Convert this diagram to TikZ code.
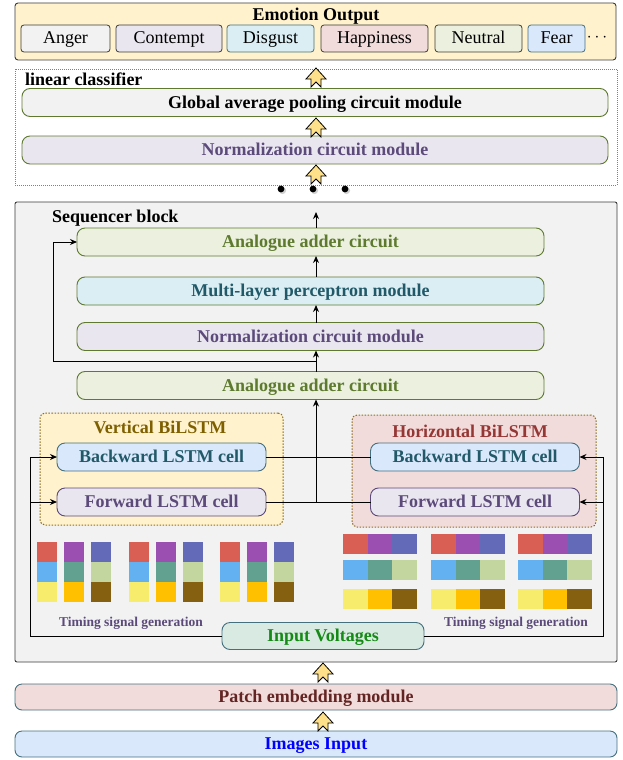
\documentclass[tikz,border=0pt]{standalone}
\usepackage{fontspec}
\setmainfont{Liberation Serif}
\usetikzlibrary{arrows.meta}
\definecolor{emoY}{HTML}{FFF2CC}
\definecolor{grayl}{HTML}{F2F2F2}
\definecolor{lav}{HTML}{EAE6F0}
\definecolor{cyanl}{HTML}{DAEEF3}
\definecolor{pinkl}{HTML}{F2DCDB}
\definecolor{greenl}{HTML}{EBF1DE}
\definecolor{bluel}{HTML}{DAE8FC}
\definecolor{mintl}{HTML}{D9EAE3}
\definecolor{olive}{HTML}{5F7A30}
\definecolor{tealB}{HTML}{45707E}
\definecolor{dgray}{HTML}{3A3A3A}
\definecolor{purp}{HTML}{5B4A7A}
\definecolor{adderT}{HTML}{5E7A2E}
\definecolor{mlpT}{HTML}{215968}
\definecolor{vtitle}{HTML}{7F6000}
\definecolor{htitle}{HTML}{953735}
\definecolor{patchT}{HTML}{632523}
\definecolor{inG}{HTML}{158A15}
\definecolor{dotB}{HTML}{8C6D1F}
\definecolor{arrY}{HTML}{FFE08A}
\definecolor{cR}{HTML}{D95F55}
\definecolor{cP}{HTML}{9B4FB0}
\definecolor{cB}{HTML}{636BB8}
\definecolor{cLB}{HTML}{63B1F0}
\definecolor{cT}{HTML}{62A190}
\definecolor{cPG}{HTML}{C4D6A0}
\definecolor{cY}{HTML}{F8EC6C}
\definecolor{cA}{HTML}{FFC000}
\definecolor{cBr}{HTML}{846010}
\begin{document}
\begin{tikzpicture}[x=1pt,y=-1pt,
  every node/.style={inner sep=0pt, outer sep=0pt},
  big/.style={font=\fontsize{18}{21}\selectfont\bfseries, text height=13.5pt, text depth=2.5pt},
  modbox/.style={big, draw=olive, line width=0.9pt, rounded corners=8pt, minimum width=467pt, minimum height=28pt},
  wide/.style={big, draw=olive, line width=0.9pt, rounded corners=8pt, minimum width=586pt, minimum height=28pt},
  cell/.style={big, line width=0.9pt, rounded corners=8pt, minimum width=209pt, minimum height=28pt},
  emo/.style={font=\fontsize{18}{21}\selectfont, text height=13.5pt, text depth=2.5pt, draw=dgray, line width=0.8pt, rounded corners=3pt, minimum height=27pt},
  bar/.style={big, draw=tealB, line width=0.9pt, rounded corners=7pt, minimum width=602pt, minimum height=26pt},
  conn/.style={line width=1pt, black},
  arr/.style={conn, -{Stealth[length=7pt,width=6pt]}},
  groupbox/.style={draw=dotB, line width=1pt, dash pattern=on 1.5pt off 1.5pt, rounded corners=5pt},
  timing/.style={font=\fontsize{13.5}{16}\selectfont\bfseries, text height=10.5pt, text depth=1.5pt, text=purp},
  yarrow/.pic={\draw[fill=arrY, line width=0.8pt, line join=miter] (0,0) -- (10,11) -- (5,11) -- (5,19) -- (0,14) -- (-5,19) -- (-5,11) -- (-10,11) -- cycle;}
]
\useasboundingbox (0,0) rectangle (623,760);

% ---------- Emotion output ----------
\node[draw=dgray, line width=0.9pt, fill=emoY, rounded corners=3pt, minimum width=601pt, minimum height=57pt] (emobox) at (315.5,31.5) {};
\node[big] (emotitle) at (316,15) {Emotion Output};
\node[emo, fill=grayl, minimum width=89pt] (anger) at (65.5,38.5) {Anger};
\node[emo, fill=lav, minimum width=106pt] (contempt) at (169,38.5) {Contempt};
\node[emo, fill=cyanl, draw=tealB, minimum width=87pt] (disgust) at (270.5,38.5) {Disgust};
\node[emo, fill=pinkl, minimum width=107pt] (happy) at (374.5,38.5) {Happiness};
\node[emo, fill=greenl, minimum width=87pt] (neutral) at (478.5,38.5) {Neutral};
\node[emo, fill=bluel, draw=tealB, minimum width=57pt] (fear) at (556.5,38.5) {Fear};
\node[font=\fontsize{18}{21}\selectfont] (more) at (597,38) {$\cdots$};

% ---------- linear classifier ----------
\node[draw=gray, line width=0.8pt, dash pattern=on 1pt off 1pt, minimum width=602pt, minimum height=116pt] (lin) at (316,127) {};
\node[big, anchor=west] (lintitle) at (25,80) {linear classifier};
\node[wide, fill=grayl] (gap) at (315,102.5) {Global average pooling circuit module};
\node[wide, fill=lav, text=purp] (norm1) at (315,150) {Normalization circuit module};
\pic at (316,68) {yarrow};
\pic at (316,118) {yarrow};
\pic at (316,165) {yarrow};

% dots
\foreach \dx [count=\k] in {281,313,345}{
  \fill[gray!60, opacity=0.6] (\dx+1.5,190.5) circle (3.6pt);
  \fill[black] (\dx,189) coordinate (dot\k) circle (3.4pt);
}

% ---------- Sequencer block ----------
\node[draw=dgray, line width=0.9pt, fill=grayl, rounded corners=2pt, minimum width=602pt, minimum height=460pt] (seq) at (316,432) {};
\node[big, anchor=west] (seqtitle) at (52,217) {Sequencer block};
\coordinate (vline) at (316,0);
\coordinate (skipx) at (53,0);
\coordinate (leftx) at (30,0);
\coordinate (rightx) at (603,0);
\coordinate (seqout) at (316,212);

\node[modbox, fill=greenl, text=adderT] (adder2) at (310.5,242) {Analogue adder circuit};
\node[modbox, fill=cyanl, text=mlpT] (mlp) at (310.5,291) {Multi-layer perceptron module};
\node[modbox, fill=lav, text=purp] (norm2) at (310.5,336.5) {Normalization circuit module};
\node[modbox, fill=greenl, text=adderT] (adder1) at (310.5,385.5) {Analogue adder circuit};

\draw[arr] (adder2.north -| vline) -- (seqout);
\draw[arr] (mlp.north -| vline) -- (adder2.south -| vline);
\draw[arr] (norm2.north -| vline) -- (mlp.south -| vline);
\draw[arr] (adder1.north -| vline) -- (norm2.south -| vline);
\coordinate (skip) at (316,361);
\draw[arr] (skip) -- (skip -| skipx) |- (adder2.west);

% BiLSTM groups
\node[groupbox, fill=emoY, minimum width=243pt, minimum height=112pt] (vgroup) at (161.5,469) {};
\node[big, text=vtitle] (vtitleN) at (160,428) {Vertical BiLSTM};
\node[groupbox, fill=pinkl, minimum width=244pt, minimum height=112pt] (hgroup) at (474,471) {};
\node[big, text=htitle] (htitleN) at (470,432) {Horizontal BiLSTM};

\node[cell, fill=bluel, draw=tealB, text=mlpT] (bwL) at (161.5,457) {Backward LSTM cell};
\node[cell, fill=lav, draw=purp, text=purp] (fwL) at (161.5,502) {Forward LSTM cell};
\node[cell, fill=bluel, draw=tealB, text=mlpT] (bwR) at (475,457) {Backward LSTM cell};
\node[cell, fill=lav, draw=purp, text=purp] (fwR) at (475,502) {Forward LSTM cell};

\draw[conn] (bwL.east) -- (bwR.west);
\draw[conn] (fwL.east) -- (fwR.west);
\draw[arr] (fwL.east -| vline) -- (adder1.south -| vline);

% Input voltages
\node[big, fill=mintl, draw=tealB, line width=0.9pt, rounded corners=8pt, minimum width=202pt, minimum height=27pt, text=inG] (iv) at (323,636) {Input Voltages};
\draw[arr] (iv.west) -- (iv.west -| leftx) |- (bwL.west);
\draw[arr] (fwL.west -| leftx) -- (fwL.west);
\draw[arr] (iv.east) -- (iv.east -| rightx) |- (bwR.east);
\draw[arr] (fwR.east -| rightx) -- (fwR.east);

\node[timing] (timL) at (131,622) {Timing signal generation};
\node[timing] (timR) at (516,622) {Timing signal generation};

% colour blocks left
\foreach \gx in {37,128.5,220}{
  \foreach \i/\ca/\cb/\cc in {0/cR/cLB/cY, 1/cP/cT/cA, 2/cB/cPG/cBr}{
    \fill[\ca] (\gx+27*\i,542) rectangle ++(20,20);
    \fill[\cb] (\gx+27*\i,562) rectangle ++(20,20);
    \fill[\cc] (\gx+27*\i,582) rectangle ++(20,20);
  }
}
% colour blocks right
\foreach \gx in {343,431,518}{
  \foreach \yy/\ca/\cb/\cc in {534/cR/cP/cB, 560/cLB/cT/cPG, 589/cY/cA/cBr}{
    \fill[\ca] (\gx,\yy) rectangle ++(24.5,20);
    \fill[\cb] (\gx+24.5,\yy) rectangle ++(24.5,20);
    \fill[\cc] (\gx+49,\yy) rectangle ++(24.5,20);
  }
}

% ---------- bottom ----------
\node[bar, fill=pinkl, text=patchT] (patch) at (316,697) {Patch embedding module};
\node[bar, fill=bluel, text=blue] (img) at (316,744) {Images Input};
\pic at (323,663) {yarrow};
\pic at (323,712) {yarrow};
\end{tikzpicture}
\end{document}
